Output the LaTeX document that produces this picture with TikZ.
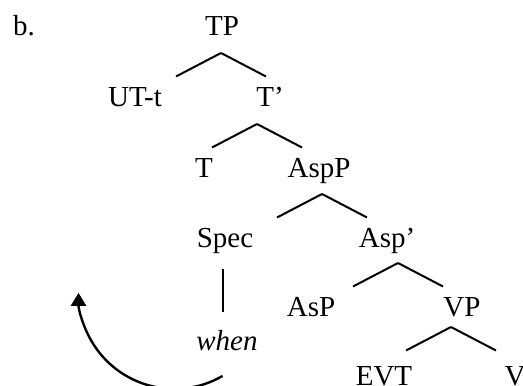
\documentclass[tikz,border=0pt]{standalone}
\usepackage{fontspec}
\setmainfont{Liberation Serif}
\usetikzlibrary{arrows.meta}

\begin{document}
\begin{tikzpicture}[x=0.5pt, y=-0.5pt, line width=1pt,
  lbl/.style={anchor=base, inner sep=0pt, font=\fontsize{14.5}{17}\selectfont}]

  \clip (0,0) rectangle (523,385);

  % branch: apex below the parent, two legs
  \newcommand\Br[3]{\draw (#1.base) ++(#2,#3) -- ++(-45,23.5)
    (#1.base) ++(#2,#3) -- ++(45,23.5);}

  \node[lbl, anchor=base west] (lab) at (12,36) {b.};

  \node[lbl] (TP)   at (222,36)  {TP};
  \node[lbl] (UTt)  at (135,106) {UT-t};
  \node[lbl] (Tb)   at (270,106) {T’};
  \node[lbl] (T)    at (204,177) {T};
  \node[lbl] (AspP) at (319,177) {AspP};
  \node[lbl] (Spec) at (225,247) {Spec};
  \node[lbl] (Aspb) at (387,247) {Asp’};
  \node[lbl] (AsP)  at (311,316) {AsP};
  \node[lbl] (VP)   at (462,316) {VP};
  \node[lbl] (when) at (227,350) {\itshape when};
  \node[lbl] (EVT)  at (384,385) {EVT};
  \node[lbl] (V)    at (515,385) {V};

  \Br{TP}{-1}{17}    %% TP -> UT-t, T'
  \Br{Tb}{-13}{18}   %% T' -> T, AspP
  \Br{AspP}{3}{17}   %% AspP -> Spec, Asp'
  \Br{Aspb}{11}{16}  %% Asp' -> AsP, VP
  \Br{VP}{-11}{11}   %% VP -> EVT, V

  \draw (Spec.base) ++(-2,22) -- ++(0,43); %% Spec -- when

  \draw[line width=1.2pt, -{Triangle[width=7.5pt, length=6.5pt]}]
    (when.base) ++(-4.5,26) arc[start angle=60, end angle=180, radius=96];
\end{tikzpicture}
\end{document}
